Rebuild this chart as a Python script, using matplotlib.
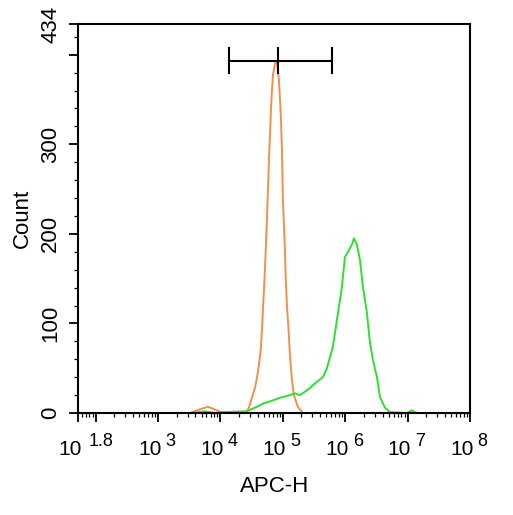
import numpy as np
import matplotlib
matplotlib.use("Agg")
import matplotlib.pyplot as plt
from matplotlib.ticker import FixedLocator, NullFormatter

plt.rcParams['font.family'] = ['Liberation Sans', 'DejaVu Sans']

# histogram outlines (log10 of APC-H, count)
orange_logx = [3.30, 3.51, 3.67, 3.80, 3.91, 4.03, 4.41, 4.458, 4.506, 4.554,
               4.587, 4.619, 4.651, 4.667, 4.683, 4.699, 4.715, 4.731, 4.747,
               4.763, 4.779, 4.795, 4.811, 4.827, 4.843, 4.875, 4.907,
               4.939, 4.971, 4.987, 5.003, 5.035, 5.051, 5.067, 5.099, 5.115,
               5.147, 5.179, 5.243, 5.323, 5.35]
orange_count = [0, 0, 4, 7, 4, 0.5, 0.5, 6, 17, 28,
                39, 54, 73, 93, 115, 137, 160, 188, 215,
                249, 282, 310, 338, 360, 377, 390, 392,
                372, 330, 294, 238, 182, 145, 121, 87, 65,
                37, 20, 7, 0, 0]

green_logx = [3.40, 3.561, 3.753, 3.913, 4.041, 4.426, 4.586, 4.70, 4.795, 4.955,
              5.115, 5.20, 5.276, 5.36, 5.436, 5.548, 5.644, 5.708, 5.804, 5.869,
              5.949, 5.997, 6.045, 6.109, 6.141, 6.189, 6.237, 6.285, 6.349,
              6.394, 6.446, 6.510, 6.558, 6.638, 6.718, 6.990, 7.071, 7.119, 7.17]
green_count = [0, 0, 2, 0, 1, 2, 7, 11, 13, 17,
               20, 22, 20, 24, 28, 35, 40, 50, 74, 104,
               141, 174, 180, 188, 195, 188, 171, 141, 112,
               81, 59, 40, 18, 6, 1, 0, 3, 1, 0]

# marker gate
gate_logx = [4.138, 4.923, 5.789]
gate_y = 393
gate_tick = [379, 407]

xmin_exp = 1.727
xtick_exp = [xmin_exp, 3, 4, 5, 6, 7, 8]
xtick_sup = ['1.8', '3', '4', '5', '6', '7', '8']
ytick_vals = [0, 100, 200, 300, 400, 434]
ytick_labels = ['0', '100', '200', '300', '', '434']

fig = plt.figure(figsize=(5.13, 5.15), dpi=100)
ax = fig.add_axes([0.153, 0.198, 0.763, 0.755])

ax.plot(10 ** np.array(orange_logx), orange_count, color='#F0904A', lw=1.4)
ax.plot(10 ** np.array(green_logx), green_count, color='#2EE02E', lw=1.4)

gx = 10 ** np.array(gate_logx)
ax.plot([gx[0], gx[2]], [gate_y, gate_y], color='black', lw=1.5)
for v in gx:
    ax.plot([v, v], gate_tick, color='black', lw=1.5)

ax.set_xscale('log')
ax.set_xlim(10 ** xmin_exp, 1e8)
ax.set_ylim(0, 434)

major_x = [10 ** e for e in xtick_exp] + [1e2]
ax.xaxis.set_major_locator(FixedLocator(major_x))
ax.xaxis.set_major_formatter(NullFormatter())
minor_x = [m * 10 ** d for d in range(1, 8) for m in range(2, 10)
           if 10 ** xmin_exp < m * 10 ** d < 1e8]
ax.xaxis.set_minor_locator(FixedLocator(minor_x))
ax.xaxis.set_minor_formatter(NullFormatter())

# "10" plus raised exponent, as on the instrument's plot
for e, s in zip(xtick_exp, xtick_sup):
    gap = 4.5 if s == '1.8' else 3
    ax.annotate('10', xy=(10 ** e, 0), xycoords=('data', 'axes fraction'),
                xytext=(2.5, -30.5), textcoords='offset points',
                ha='right', va='baseline', fontsize=15)
    ax.annotate(s, xy=(10 ** e, 0), xycoords=('data', 'axes fraction'),
                xytext=(2.5 + gap, -23.5), textcoords='offset points',
                ha='left', va='baseline', fontsize=13)

ax.yaxis.set_major_locator(FixedLocator(ytick_vals))
ax.set_yticklabels(ytick_labels, rotation=90, va='center')
ax.yaxis.set_minor_locator(FixedLocator(list(range(20, 434, 20))))

for sp in ax.spines.values():
    sp.set_linewidth(1.5)
ax.tick_params(which='major', direction='out', length=6.5, width=1.3, labelsize=16)
ax.tick_params(which='minor', direction='out', length=2.8, width=0.9)
ax.tick_params(axis='y', which='major', pad=6)

ax.set_xlabel('APC-H', fontsize=16, va='top')
ax.xaxis.set_label_coords(0.5, -0.163)
ax.set_ylabel('Count', fontsize=16, labelpad=5)

fig.savefig('out.png', dpi=100)
